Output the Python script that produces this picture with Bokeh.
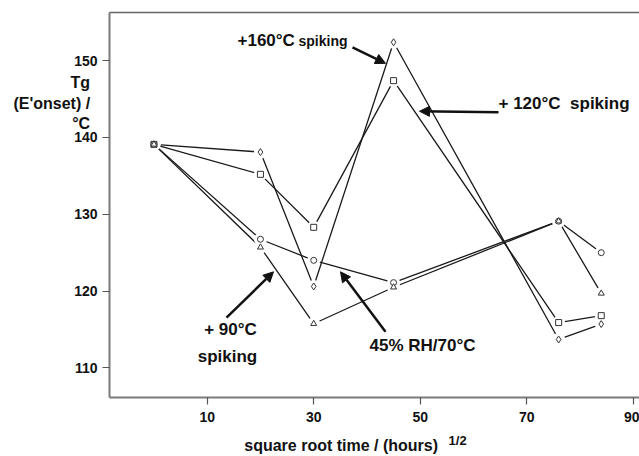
from bokeh.plotting import figure
from bokeh.models import Range1d, FixedTicker, LinearAxis, Label, Arrow, NormalHead
from bokeh.embed import file_html
from bokeh.resources import INLINE

# ---- data ----
time_sqrt = [0, 20, 30, 45, 76, 84]
spike_160 = [139.1, 138.1, 120.6, 152.4, 113.7, 115.7]
spike_120 = [139.1, 135.2, 128.3, 147.4, 115.9, 116.8]
rh45_70 = [139.1, 126.75, 124.0, 121.1, 129.1, 125.0]
spike_90 = [139.1, 125.7, 115.75, 120.5, 129.1, 119.7]
x_ticks = [10, 30, 50, 70, 90]
y_ticks = [110, 120, 130, 140, 150]

# pixel -> data helpers (layout only)
X_PX0, X_SCALE = 153.45, 5.325
Y_PX150, Y_SCALE = 60.3, 7.7


def dx(px):
    return (px - X_PX0) / X_SCALE


def dy(py):
    return 150 - (py - Y_PX150) / Y_SCALE


FONT = "Liberation Sans"
AX = "#7a7a7a"
NB = "\u00a0"

p = figure(width=639, height=456,
           x_range=Range1d(dx(109), dx(639)), y_range=Range1d(dy(398), dy(12)),
           output_backend="svg", toolbar_location=None,
           min_border_left=109, min_border_right=0, min_border_top=12, min_border_bottom=58)
p.outline_line_color = None
p.grid.visible = False
p.background_fill_color = "white"
p.border_fill_color = "white"

for ax, ticks in ((p.xaxis[0], x_ticks), (p.yaxis[0], y_ticks)):
    ax.ticker = FixedTicker(ticks=ticks)
    ax.axis_line_color = AX
    ax.axis_line_width = 2
    ax.major_tick_line_color = "#555555"
    ax.major_tick_line_width = 1.2
    ax.major_tick_out = 7
    ax.major_tick_in = 0
    ax.minor_tick_line_color = None
    ax.major_label_text_font = FONT
    ax.major_label_text_font_style = "bold"
    ax.major_label_text_font_size = "14px"
    ax.major_label_text_color = "#111111"
    ax.axis_label_text_font = FONT
    ax.axis_label_text_font_style = "bold"
    ax.axis_label_text_font_size = "16px"
    ax.axis_label_text_color = "#111111"
p.xaxis[0].major_label_standoff = 7
p.yaxis[0].major_label_standoff = 5

# x axis title (shifted left with trailing no-break spaces)
p.xaxis[0].axis_label = "square root time / (hours)" + NB * 15
p.xaxis[0].axis_label_standoff = 12

# superscript 1/2 as the label of a bare second bottom axis, pulled up
sup = LinearAxis(ticker=FixedTicker(ticks=[]), axis_line_color=None,
                 major_tick_line_color=None, minor_tick_line_color=None,
                 major_label_text_font_size="0px",
                 axis_label=NB * 46 + "1/2", axis_label_text_font=FONT,
                 axis_label_text_font_style="bold", axis_label_text_font_size="13px",
                 axis_label_text_color="#111111", axis_label_standoff=-24)
p.add_layout(sup, "below")

# y axis title: horizontal, three lines, lifted with blank lines
p.yaxis[0].axis_label = "\n".join(["Tg", "(E'onset) /", "\u00b0C"] + [NB] * 10)
p.yaxis[0].axis_label_orientation = "horizontal"
p.yaxis[0].axis_label_text_align = "center"
p.yaxis[0].axis_label_standoff = -19

top = LinearAxis(ticker=FixedTicker(ticks=[]), axis_line_color="#666666", axis_line_width=1.5,
                 major_tick_line_color=None, minor_tick_line_color=None,
                 major_label_text_font_size="0px")
p.add_layout(top, "above")

series = [
    (spike_160, "diamond", 7),
    (spike_120, "square", 6),
    (rh45_70, "circle", 6),
    (spike_90, "triangle", 6),
]
for ys, _, _ in series:
    p.line(time_sqrt, ys, line_color="#1a1a1a", line_width=1.3)
for ys, _, _ in series:
    p.scatter(time_sqrt, ys, marker="circle", size=13, fill_color="white", line_color=None)
for ys, mk, sz in series:
    p.scatter(time_sqrt, ys, marker=mk, size=sz, fill_color="white", line_color="#333333", line_width=1)


def lab(px, py, text, size="17px", align="left", baseline="middle"):
    p.add_layout(Label(x=dx(px), y=dy(py), text=text, text_font=FONT, text_font_style="bold",
                       text_font_size=size, text_align=align, text_baseline=baseline,
                       text_color="#111111"))


# annotations
lab(237, 40, "+160\u00b0C", "17px")
lab(298, 41, "spiking", "14px")
lab(498, 103, "+ 120\u00b0C" + NB + " spiking", "17px")
lab(230, 330, "+ 90\u00b0C", "17px", align="center")
lab(227, 357, "spiking", "17px", align="center")
lab(369, 346, "45% RH/70\u00b0C", "17px")


def arrow(x0, y0, x1, y1):
    p.add_layout(Arrow(x_start=dx(x0), y_start=dy(y0), x_end=dx(x1), y_end=dy(y1),
                       line_color="#111111", line_width=2.5,
                       end=NormalHead(size=10, fill_color="#111111", line_color="#111111")))


arrow(352, 47, 385, 63)
arrow(498, 112, 419, 111)
arrow(226, 318, 273, 272)
arrow(385, 332, 340, 272)

open("out.html", "w").write(file_html(p, INLINE))
